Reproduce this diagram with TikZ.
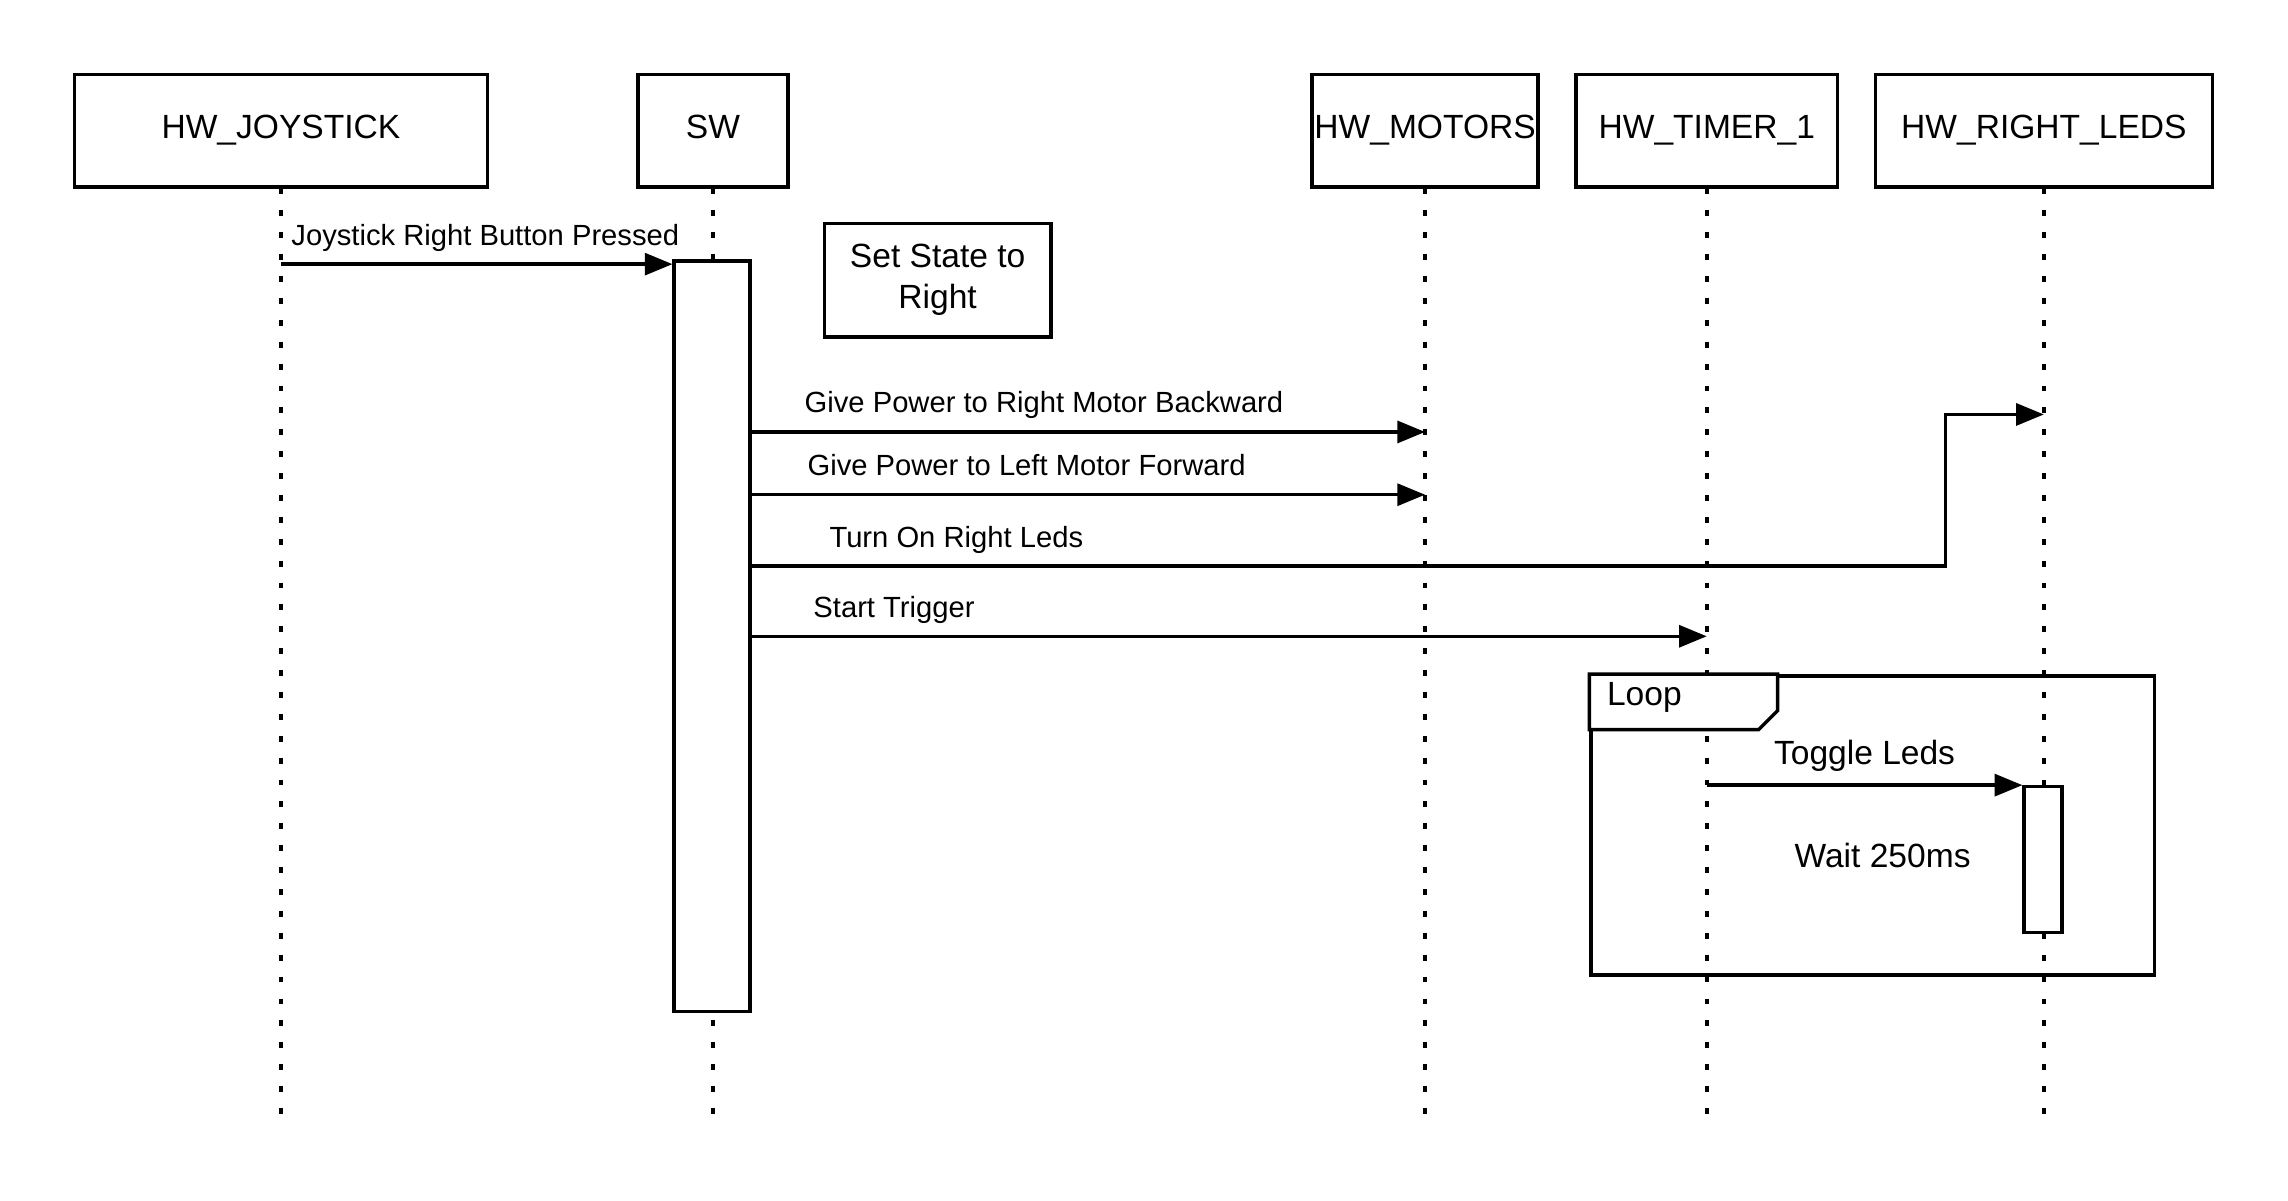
\documentclass[tikz,border=0pt]{standalone}
\usepackage{fontspec}
\setmainfont{Liberation Sans}
\usetikzlibrary{arrows.meta, positioning}

\begin{document}
\begin{tikzpicture}[line width=1.2pt]
	\tikzset {x=0.5pt, y=-0.5pt, >={Triangle[length=9.5pt, width=7.5pt]},
		big/.style={font=\fontsize{11.5}{14}\selectfont},
		head/.style={draw, rectangle, big, inner sep=0pt, minimum height=38.5pt, text height=8.2pt, text depth=2.5pt},
		lifeline/.style={dash pattern=on 2pt off 5.5pt},
		act/.style={draw, fill=white, rectangle, inner sep=0pt},
		msg/.style={->},
		lbl/.style={inner sep=0pt, font=\fontsize{10}{12}\selectfont, anchor=base west, yshift=6.5pt}
	}
	\useasboundingbox (0,0) rectangle (1567.8,822.3);

	% participants
	\node[head, minimum width=141.5pt] (joy) at (192.5,89.5) {HW\_JOYSTICK};
	\node[head, minimum width=51.5pt] (sw) at (488.5,89.5) {SW};
	\node[head, minimum width=77.5pt] (motors) at (976.5,89.5) {HW\_MOTORS};
	\node[head, minimum width=89.5pt] (timer) at (1169.5,89.5) {HW\_TIMER\_1};
	\node[head, minimum width=115.5pt] (leds) at (1400.5,89.5) {HW\_RIGHT\_LEDS};

	\coordinate (bottom) at (0,770);
	\foreach \p in {joy, sw, motors, timer, leds}
		\draw[lifeline] (\p.south) -- (\p |- bottom);

	% loop frame
	\node[draw, rectangle, inner sep=0pt, minimum width=193pt, minimum height=102.5pt, anchor=north west] (loop) at (1089,462) {};
	\draw[fill=white] (loop.north west) -- ++(129,0) -- ++(0,25) -- ++(-13,13) -- ++(-116,0) -- cycle;
	\node[big, inner sep=0pt, anchor=west] (looptxt) at (1100,478) {Loop};

	% activations
	\node[act, minimum width=26pt, minimum height=257pt] (swact) at (488,436) {};
	\node[act, minimum width=13pt, minimum height=50pt] (ledact) at (1400,589) {};

	\node[draw, rectangle, big, align=center, inner sep=0pt, minimum width=77.5pt, minimum height=39pt] (note) at (642.5,192) {Set State to\\Right};
	\node[big, inner sep=0pt] (wait) at (1290,586) {Wait 250ms};

	% messages
	\coordinate (r1) at (0,181);
	\coordinate (r2) at (0,296);
	\coordinate (r3) at (0,339);
	\coordinate (r4) at (0,388);
	\coordinate (r5) at (0,436);
	\coordinate (r6) at (0,538);
	\coordinate (turn) at (1333,284);

	\draw[msg] (joy |- r1) -- node[lbl, pos=0, xshift=3pt] {Joystick Right Button Pressed} (swact.west |- r1);
	\draw[msg] (swact.east |- r2) -- node[lbl, pos=0, xshift=17.5pt] {Give Power to Right Motor Backward} (motors |- r2);
	\draw[msg] (swact.east |- r3) -- node[lbl, pos=0, xshift=18.5pt] {Give Power to Left Motor Forward} (motors |- r3);
	\draw[msg] (swact.east |- r4) -| node[lbl, pos=0, xshift=26pt] {Turn On Right Leds} (turn) -- (leds |- turn);
	\draw[msg] (swact.east |- r5) -- node[lbl, pos=0, xshift=20.5pt] {Start Trigger} (timer |- r5);
	\draw[msg] (timer |- r6) -- node[big, inner sep=0pt, anchor=base, yshift=7pt] {Toggle Leds} (ledact.west |- r6);
\end{tikzpicture}
\end{document}
